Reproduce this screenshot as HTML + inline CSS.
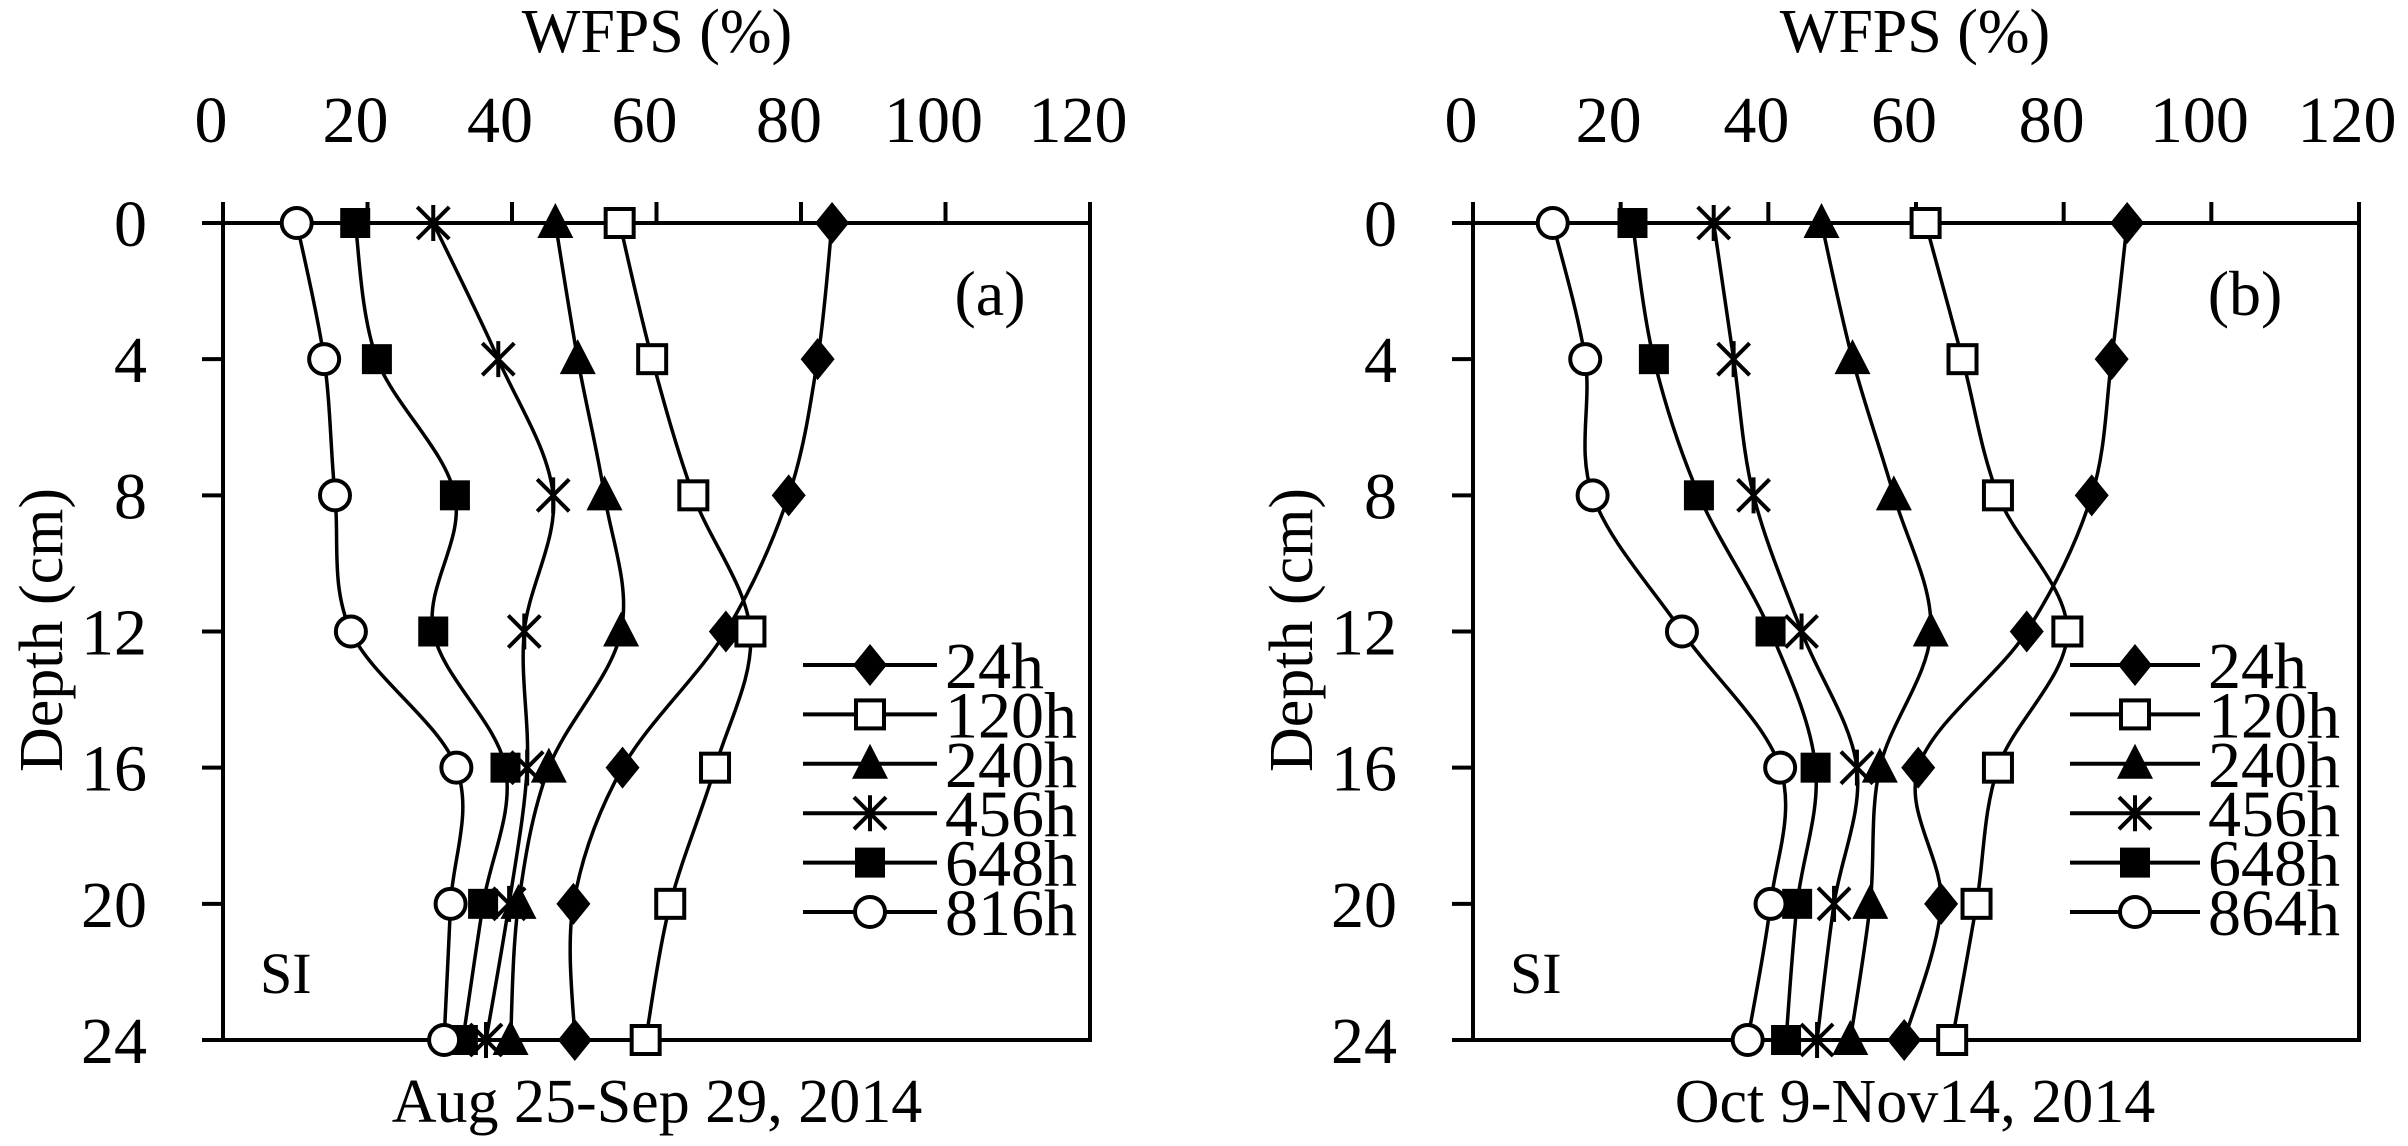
<!DOCTYPE html>
<html><head><meta charset="utf-8"><style>
html,body{margin:0;padding:0;background:#fff;}
svg{display:block;}
text{font-family:"Liberation Serif",serif;fill:#000;}
</style></head><body>
<svg id="chart" width="2408" height="1146" viewBox="0 0 2408 1146"></svg>
<script>
const depths=[0,4,8,12,16,20,24];
const xTicks=[0,20,40,60,80,100,120];
const yTicks=[0,4,8,12,16,20,24];
const seriesNames=["24h","120h","240h","456h","648h"];
const lastNameA="816h", lastNameB="864h";
const markers=["diamond","square","triangle","star","fsquare","circle"];
const a24=[84.3,82.3,78.3,69.6,55.3,48.5,48.7];
const a120=[54.9,59.4,65.1,73,68.1,61.9,58.5];
const a240=[46,49.1,52.8,55.1,45.1,40.9,39.8];
const a456=[29.1,38.1,45.7,41.7,42.1,39.6,36.4];
const a648=[18.3,21.3,32.1,29.1,39.1,36,33.2];
const a816=[10.2,14,15.5,17.7,32.3,31.5,30.6];
const b24=[88.6,86.5,83.8,75,60.3,63.4,58.4];
const b120=[61.3,66.3,71.1,80.5,71.1,68.2,64.9];
const b240=[47.2,51.4,57,62,55.1,53.8,51.1];
const b456=[32.6,35.3,38,44.5,52,48.9,46.6];
const b648=[21.6,24.5,30.6,40.3,46.4,43.9,42.4];
const b864=[10.8,15.2,16.2,28.3,41.6,40.3,37.2];

const NS="http://www.w3.org/2000/svg";
const svg=document.getElementById('chart');
function mk(tag,attrs,parent){const e=document.createElementNS(NS,tag);for(const k in attrs)e.setAttribute(k,attrs[k]);(parent||svg).appendChild(e);return e;}
function marker(type,x,y,g){
  let e;
  if(type==="diamond")e=mk('polygon',{points:`${x},${y-21} ${x+17},${y} ${x},${y+21} ${x-17},${y}`,fill:'#000'},g);
  else if(type==="square")e=mk('rect',{x:x-14,y:y-14,width:28,height:28,fill:'#fff',stroke:'#000','stroke-width':4},g);
  else if(type==="fsquare")e=mk('rect',{x:x-15,y:y-15,width:30,height:30,fill:'#000'},g);
  else if(type==="triangle")e=mk('polygon',{points:`${x},${y-20} ${x+18},${y+15} ${x-18},${y+15}`,fill:'#000'},g);
  else if(type==="circle")e=mk('circle',{cx:x,cy:y,r:15,fill:'#fff',stroke:'#000','stroke-width':4},g);
  else {e=mk('path',{d:`M${x-16},${y-16}L${x+16},${y+16}M${x+16},${y-16}L${x-16},${y+16}M${x},${y-18}L${x},${y+18}`,stroke:'#000','stroke-width':4,fill:'none'},g);}
  
  
}
function smooth(pts){
  let d=`M${pts[0][0]},${pts[0][1]}`;
  for(let i=0;i<pts.length-1;i++){
    const p0=pts[i-1]||pts[i],p1=pts[i],p2=pts[i+1],p3=pts[i+2]||p2,t=0.5/3;
    d+=`C${p1[0]+(p2[0]-p0[0])*t},${p1[1]+(p2[1]-p0[1])*t} ${p2[0]-(p3[0]-p1[0])*t},${p2[1]-(p3[1]-p1[1])*t} ${p2[0]},${p2[1]}`;
  }
  return d;
}
function panel(cfg){
  const g=mk('g',{});
  
  
  const X=v=>cfg.x0+(v/120)*(cfg.x1-cfg.x0);
  const Y=v=>cfg.y0+(v/24)*(cfg.y1-cfg.y0);
  const frame=mk('rect',{x:cfg.x0,y:cfg.y0,width:cfg.x1-cfg.x0,height:cfg.y1-cfg.y0,fill:'none',stroke:'#000','stroke-width':4},g);
  
  
  mk('line',{x1:cfg.x0-21,y1:cfg.y0,x2:cfg.x0,y2:cfg.y0,stroke:'#000','stroke-width':4},g);
  xTicks.forEach(t=>{
    mk('line',{x1:X(t),y1:cfg.y0-21,x2:X(t),y2:cfg.y0,stroke:'#000','stroke-width':4},g);
    const tx=mk('text',{x:X(t)-12,y:142,'font-size':66,'text-anchor':'middle'},g);tx.textContent=t;
    
    
  });
  yTicks.forEach(t=>{
    mk('line',{x1:cfg.x0-21,y1:Y(t),x2:cfg.x0,y2:Y(t),stroke:'#000','stroke-width':4},g);
    const ty=mk('text',{x:cfg.x0-76,y:Y(t)+23,'font-size':66,'text-anchor':'end'},g);ty.textContent=t;
    
    
  });
  const xt=mk('text',{x:cfg.tx,y:52,'font-size':62,'text-anchor':'middle'},g);xt.textContent="WFPS (%)";
  
  
  const yt=mk('text',{x:0,y:0,'font-size':62,'text-anchor':'middle',transform:`translate(${cfg.yx},630) rotate(-90)`},g);yt.textContent="Depth (cm)";
  
  
  const dt=mk('text',{x:cfg.tx,y:1122,'font-size':62,'text-anchor':'middle'},g);dt.textContent=cfg.date;
  
  
  const pl=mk('text',{x:cfg.plx,y:315,'font-size':64,'text-anchor':'middle'},g);pl.textContent=cfg.label;
  
  
  const si=mk('text',{x:cfg.x0+37,y:993,'font-size':58},g);si.textContent="SI";
  
  
  cfg.series.forEach((s,i)=>{
    const pts=s.map((v,j)=>[X(v),Y(depths[j])]);
    const p=mk('path',{d:smooth(pts),fill:'none',stroke:'#000','stroke-width':3.5},g);
    
    
  });
  cfg.series.forEach((s,i)=>{s.forEach((v,j)=>marker(markers[i],X(v),Y(depths[j]),g));});
  cfg.names.forEach((n,i)=>{
    const ly=cfg.ly0+i*49.4;
    const le=mk('g',{},g);
    
    
    mk('line',{x1:cfg.lx1,y1:ly,x2:cfg.lx2,y2:ly,stroke:'#000','stroke-width':4},le);
    marker(markers[i],(cfg.lx1+cfg.lx2)/2,ly,le);
    const lt=mk('text',{x:cfg.lx2+8,y:ly+23,'font-size':66},le);lt.textContent=n;
  });
}
panel({name:'panel-a',x0:223,x1:1090,y0:223,y1:1040,tx:657,yx:62,date:"Aug 25-Sep 29, 2014",label:"(a)",plx:990,
  series:[a24,a120,a240,a456,a648,a816],names:seriesNames.concat([lastNameA]),lx1:803,lx2:937,ly0:665});
panel({name:'panel-b',x0:1473,x1:2359,y0:223,y1:1040,tx:1915,yx:1312,date:"Oct 9-Nov14, 2014",label:"(b)",plx:2245,
  series:[b24,b120,b240,b456,b648,b864],names:seriesNames.concat([lastNameB]),lx1:2070,lx2:2200,ly0:665});
</script>
</body></html>
